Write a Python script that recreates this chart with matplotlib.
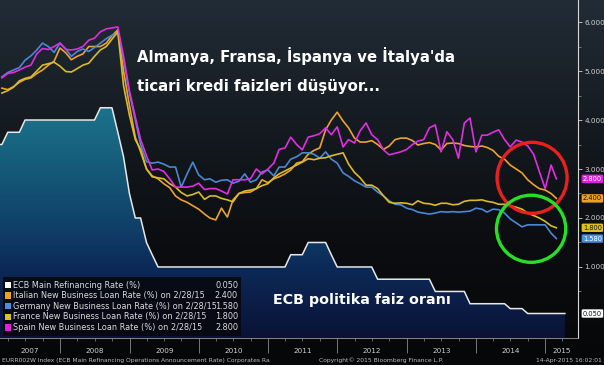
import numpy as np
import pandas as pd
import matplotlib
matplotlib.use('Agg')
import matplotlib.pyplot as plt
import matplotlib.dates as mdates
from matplotlib.colors import LinearSegmentedColormap
from matplotlib.patches import Ellipse, Rectangle

# monthly loan rates, end of month, Feb 2007 .. Feb 2015
loan_dates = pd.date_range('2007-02-28', '2015-02-28', freq='ME')

italy = [4.65, 4.62, 4.68, 4.77, 4.83, 4.86, 4.95, 5.02, 5.12, 5.20, 5.47, 5.37, 5.23, 5.30, 5.35, 5.50, 5.50, 5.50, 5.57, 5.72, 5.84,
         5.00, 4.30, 3.65, 3.35, 3.00,
         2.86, 2.80, 2.70, 2.62, 2.45, 2.37, 2.32, 2.25, 2.18, 2.08, 2.00, 1.96, 2.20, 2.02, 2.37, 2.50, 2.52, 2.53, 2.60, 2.78, 2.72,
         2.80, 2.84, 2.90, 2.98, 3.12, 3.15, 3.30, 3.38, 3.43, 3.80, 4.00, 4.16, 3.98, 3.84, 3.63, 3.55, 3.55, 3.58, 3.50, 3.40,
         3.47, 3.60, 3.63, 3.63, 3.58, 3.49, 3.52, 3.54, 3.50, 3.39, 3.52, 3.53, 3.52, 3.48, 3.46, 3.45, 3.47, 3.44, 3.38, 3.26,
         3.20, 3.08, 3.00, 2.92, 2.78, 2.68, 2.60, 2.57, 2.50, 2.40]

germany = [4.88, 4.97, 5.02, 5.07, 5.22, 5.31, 5.43, 5.57, 5.50, 5.38, 5.57, 5.45, 5.30, 5.40, 5.45, 5.40, 5.48, 5.57, 5.66, 5.73, 5.78,
           5.25, 4.55, 4.00, 3.50, 3.15,
           3.12, 3.14, 3.10, 3.04, 3.04, 2.63, 2.90, 3.14, 2.88, 2.78, 2.80, 2.73, 2.77, 2.78, 2.71, 2.75, 2.90, 2.73, 2.78, 2.94, 2.98,
           2.86, 3.04, 3.04, 3.20, 3.25, 3.33, 3.33, 3.30, 3.22, 3.35, 3.20, 3.12, 2.92, 2.85, 2.76, 2.70, 2.63, 2.63, 2.53, 2.45,
           2.35, 2.28, 2.27, 2.20, 2.17, 2.12, 2.10, 2.08, 2.10, 2.13, 2.12, 2.13, 2.12, 2.13, 2.14, 2.20, 2.18, 2.12, 2.18, 2.17,
           2.10, 1.98, 1.90, 1.82, 1.86, 1.86, 1.86, 1.86, 1.69, 1.58]

france = [4.55, 4.60, 4.67, 4.80, 4.85, 4.88, 5.00, 5.12, 5.15, 5.18, 5.10, 4.99, 4.98, 5.05, 5.12, 5.16, 5.30, 5.43, 5.50, 5.65, 5.80,
          4.70, 4.10, 3.60, 3.40, 3.00,
          2.84, 2.82, 2.80, 2.70, 2.63, 2.52, 2.45, 2.48, 2.53, 2.38, 2.45, 2.45, 2.40, 2.37, 2.33, 2.50, 2.55, 2.57, 2.60, 2.66, 2.70,
          2.82, 2.90, 2.96, 3.02, 3.08, 3.14, 3.21, 3.19, 3.22, 3.23, 3.27, 3.30, 3.33, 3.10, 2.93, 2.82, 2.67, 2.67, 2.60, 2.45,
          2.32, 2.30, 2.31, 2.30, 2.27, 2.35, 2.30, 2.29, 2.26, 2.30, 2.30, 2.27, 2.28, 2.34, 2.36, 2.36, 2.37, 2.34, 2.32, 2.28,
          2.28, 2.25, 2.22, 2.18, 2.10, 2.05, 2.00, 1.93, 1.84, 1.80]

spain = [4.86, 4.95, 4.97, 5.02, 5.08, 5.12, 5.35, 5.46, 5.44, 5.50, 5.57, 5.44, 5.43, 5.45, 5.50, 5.63, 5.67, 5.80, 5.86, 5.88, 5.90,
         5.30, 4.60, 4.06, 3.60, 3.27,
         2.98, 3.00, 2.95, 2.80, 2.63, 2.63, 2.63, 2.65, 2.71, 2.58, 2.60, 2.60, 2.55, 2.49, 2.78, 2.78, 2.78, 2.80, 3.00, 2.90, 3.00,
         3.12, 3.40, 3.43, 3.65, 3.50, 3.39, 3.65, 3.68, 3.72, 3.84, 3.70, 3.86, 3.45, 3.60, 3.53, 3.78, 3.94, 3.70, 3.60, 3.39,
         3.29, 3.32, 3.35, 3.40, 3.50, 3.57, 3.60, 3.84, 3.90, 3.35, 3.76, 3.60, 3.22, 3.94, 4.04, 3.35, 3.69, 3.69, 3.75, 3.80,
         3.60, 3.45, 3.59, 3.55, 3.47, 3.30, 2.95, 2.60, 3.08, 2.80]

# ECB main refinancing rate, end of month Jan 2007 .. Mar 2015, then 14 Apr 2015
ecb_dates = pd.date_range('2007-01-31', '2015-03-31', freq='ME').append(pd.DatetimeIndex(['2015-04-14']))
ecb = [3.50, 3.50, 3.75, 3.75, 3.75, 4.00, 4.00, 4.00, 4.00, 4.00, 4.00, 4.00,
       4.00, 4.00, 4.00, 4.00, 4.00, 4.00, 4.25, 4.25, 4.25, 3.75, 3.25, 2.50,
       2.00, 2.00, 1.50, 1.25, 1.00, 1.00, 1.00, 1.00, 1.00, 1.00, 1.00, 1.00,
       1.00, 1.00, 1.00, 1.00, 1.00, 1.00, 1.00, 1.00, 1.00, 1.00, 1.00, 1.00,
       1.00, 1.00, 1.00, 1.25, 1.25, 1.25, 1.50, 1.50, 1.50, 1.50, 1.25, 1.00,
       1.00, 1.00, 1.00, 1.00, 1.00, 1.00, 0.75, 0.75, 0.75, 0.75, 0.75, 0.75,
       0.75, 0.75, 0.75, 0.75, 0.50, 0.50, 0.50, 0.50, 0.50, 0.50, 0.25, 0.25,
       0.25, 0.25, 0.25, 0.25, 0.25, 0.15, 0.15, 0.15, 0.05, 0.05, 0.05, 0.05,
       0.05, 0.05, 0.05, 0.05]

series = [
    ('ECB Main Refinancing Rate (%)', ecb_dates, ecb, '#e8e8e8', '#ffffff', '#111111'),
    ('Italian New Business Loan Rate (%) on 2/28/15', loan_dates, italy, '#eba232', '#f0a020', '#111111'),
    ('Germany New Business Loan Rate (%) on 2/28/15', loan_dates, germany, '#4a88d4', '#4a8ee0', '#ffffff'),
    ('France New Business Loan Rate (%) on 2/28/15', loan_dates, france, '#d9bb2c', '#e0c020', '#111111'),
    ('Spain New Business Loan Rate (%) on 2/28/15', loan_dates, spain, '#e02ee0', '#e020e0', '#ffffff'),
]
years = list(range(2007, 2016))

W, H = 604, 365
fig = plt.figure(figsize=(W / 100, H / 100), dpi=100)

# background gradient
bg = fig.add_axes([0, 0, 1, 1])
bg.axis('off')
bg_cmap = LinearSegmentedColormap.from_list('bg', ['#060708', '#0b0d10', '#151b21', '#222c36'])
bg.imshow(np.linspace(0, 1, 256).reshape(-1, 1), aspect='auto', cmap=bg_cmap,
          origin='lower', extent=[0, 1, 0, 1])

ax = fig.add_axes([0, 27 / H, 578 / W, 338 / H])
ax.set_facecolor('none')

x0 = mdates.date2num(pd.Timestamp('2007-02-18'))
x1 = mdates.date2num(pd.Timestamp('2015-06-22'))
ymin, ymax = -0.45, 6.45

# ECB area with vertical gradient
coll = ax.fill_between(ecb_dates, ecb, ymin - 1, facecolor='none', edgecolor='none')
ecb_cmap = LinearSegmentedColormap.from_list(
    'ecb', [(0, '#0a1236'), (0.3, '#0c2a58'), (0.44, '#0f3d66'), (0.79, '#17627e'), (1, '#1d7590')])
im = ax.imshow(np.linspace(0, 1, 256).reshape(-1, 1), aspect='auto', cmap=ecb_cmap,
               origin='lower', extent=[x0, x1, ymin, 4.4], zorder=1)
im.set_clip_path(coll.get_paths()[0], transform=ax.transData)

for name, d, v, c, tag, tc in series:
    lw = 1.1 if name.startswith('ECB') else 1.2
    ax.plot(d, v, color=c, lw=lw, zorder=3)

ax.set_xlim(x0, x1)
ax.set_ylim(ymin, ymax)

# right axis
ax.yaxis.tick_right()
ax.set_yticks([1, 2, 3, 4, 5, 6])
ax.set_yticks(np.arange(0.5, 6.5, 1.0), minor=True)
ax.yaxis.set_major_formatter(matplotlib.ticker.FormatStrFormatter('%.3f'))
ax.tick_params(axis='y', which='major', colors='#d0d0d0', labelsize=5.2, length=3, width=0.6, pad=1.5)
ax.tick_params(axis='y', which='minor', colors='#9a9a9a', length=2, width=0.5)
for s in ['left', 'top']:
    ax.spines[s].set_visible(False)
ax.spines['right'].set_color('#d8d8d8')
ax.spines['right'].set_linewidth(0.8)
ax.spines['bottom'].set_color('#9a9a9a')
ax.spines['bottom'].set_linewidth(0.6)

# x axis: separators at year starts, labels centred in each visible year
ax.set_xticks([mdates.date2num(pd.Timestamp(f'{y}-01-01')) for y in years[1:]])
ax.set_xticklabels([])
ax.set_xticks(mdates.date2num(pd.date_range('2007-04-01', '2015-04-01', freq='QS')), minor=True)
ax.tick_params(axis='x', which='major', colors='#8a8a8a', length=11, width=0.6)
ax.tick_params(axis='x', which='minor', colors='#8a8a8a', length=2, width=0.5)
for y in years:
    a = max(mdates.date2num(pd.Timestamp(f'{y}-01-01')), x0)
    b = min(mdates.date2num(pd.Timestamp(f'{y + 1}-01-01')), x1)
    ax.text((a + b) / 2, -13 / 338, str(y), transform=ax.get_xaxis_transform(),
            ha='center', va='center', fontsize=5.2, color='#cfcfcf')

# last value tags
for name, d, v, c, tag, tc in series:
    ax.annotate(f'{v[-1]:.3f}', xy=(1, v[-1]), xycoords=('axes fraction', 'data'),
                xytext=(3.5, 0), textcoords='offset points', fontsize=4.8, color=tc,
                ha='left', va='center', annotation_clip=False, zorder=6,
                bbox=dict(boxstyle='round,pad=0.18', fc=tag, ec='none'))

# circles
ax.add_patch(Ellipse((mdates.date2num(pd.Timestamp('2014-10-23')), 2.82), 369, 1.45,
                     fill=False, ec='#e8201e', lw=2.4, zorder=5))
ax.add_patch(Ellipse((mdates.date2num(pd.Timestamp('2014-10-18')), 1.78), 365, 1.37,
                     fill=False, ec='#26e026', lw=2.4, zorder=5))

# legend box
fig.add_artist(Rectangle((3 / W, 1 - 336 / H), 238 / W, 59 / H, transform=fig.transFigure,
                         facecolor='#07080e', edgecolor='none', alpha=0.88, zorder=5))
for i, (name, d, v, c, tag, tc) in enumerate(series):
    yc = 1 - (285 + i * 10.6) / H
    fig.add_artist(Rectangle((5 / W, yc - 3.2 / H), 6.4 / W, 6.4 / H, transform=fig.transFigure,
                             facecolor=tag, edgecolor='none', zorder=6))
    fig.text(13 / W, yc, name, fontsize=5.9, color='#dcdcdc', va='center', ha='left', zorder=6)
    fig.text(238 / W, yc, f'{v[-1]:.3f}', fontsize=5.9, color='#dcdcdc', va='center', ha='right', zorder=6)

# headline texts
fig.text(137 / W, 1 - 56 / H, "Almanya, Fransa, İspanya ve İtalya'da", fontsize=10.7, fontweight='bold',
         color='white', va='center', ha='left', zorder=7)
fig.text(137 / W, 1 - 87 / H, 'ticari kredi faizleri düşüyor...', fontsize=10.7, fontweight='bold',
         color='white', va='center', ha='left', zorder=7)
fig.text(273 / W, 1 - 300 / H, 'ECB politika faiz oranı', fontsize=10.3, fontweight='bold',
         color='white', va='center', ha='left', zorder=7)

# footer
fig.text(2 / W, 4.5 / H, 'EURR002W Index (ECB Main Refinancing Operations Announcement Rate) Corporates Ra',
         fontsize=4.3, color='#bdbdbd', va='center', ha='left')
fig.text(381 / W, 4.5 / H, 'Copyright© 2015 Bloomberg Finance L.P.', fontsize=4.3, color='#bdbdbd',
         va='center', ha='center')
fig.text(602 / W, 4.5 / H, '14-Apr-2015 16:02:01', fontsize=4.3, color='#bdbdbd', va='center', ha='right')

fig.savefig('out.png', dpi=100)
